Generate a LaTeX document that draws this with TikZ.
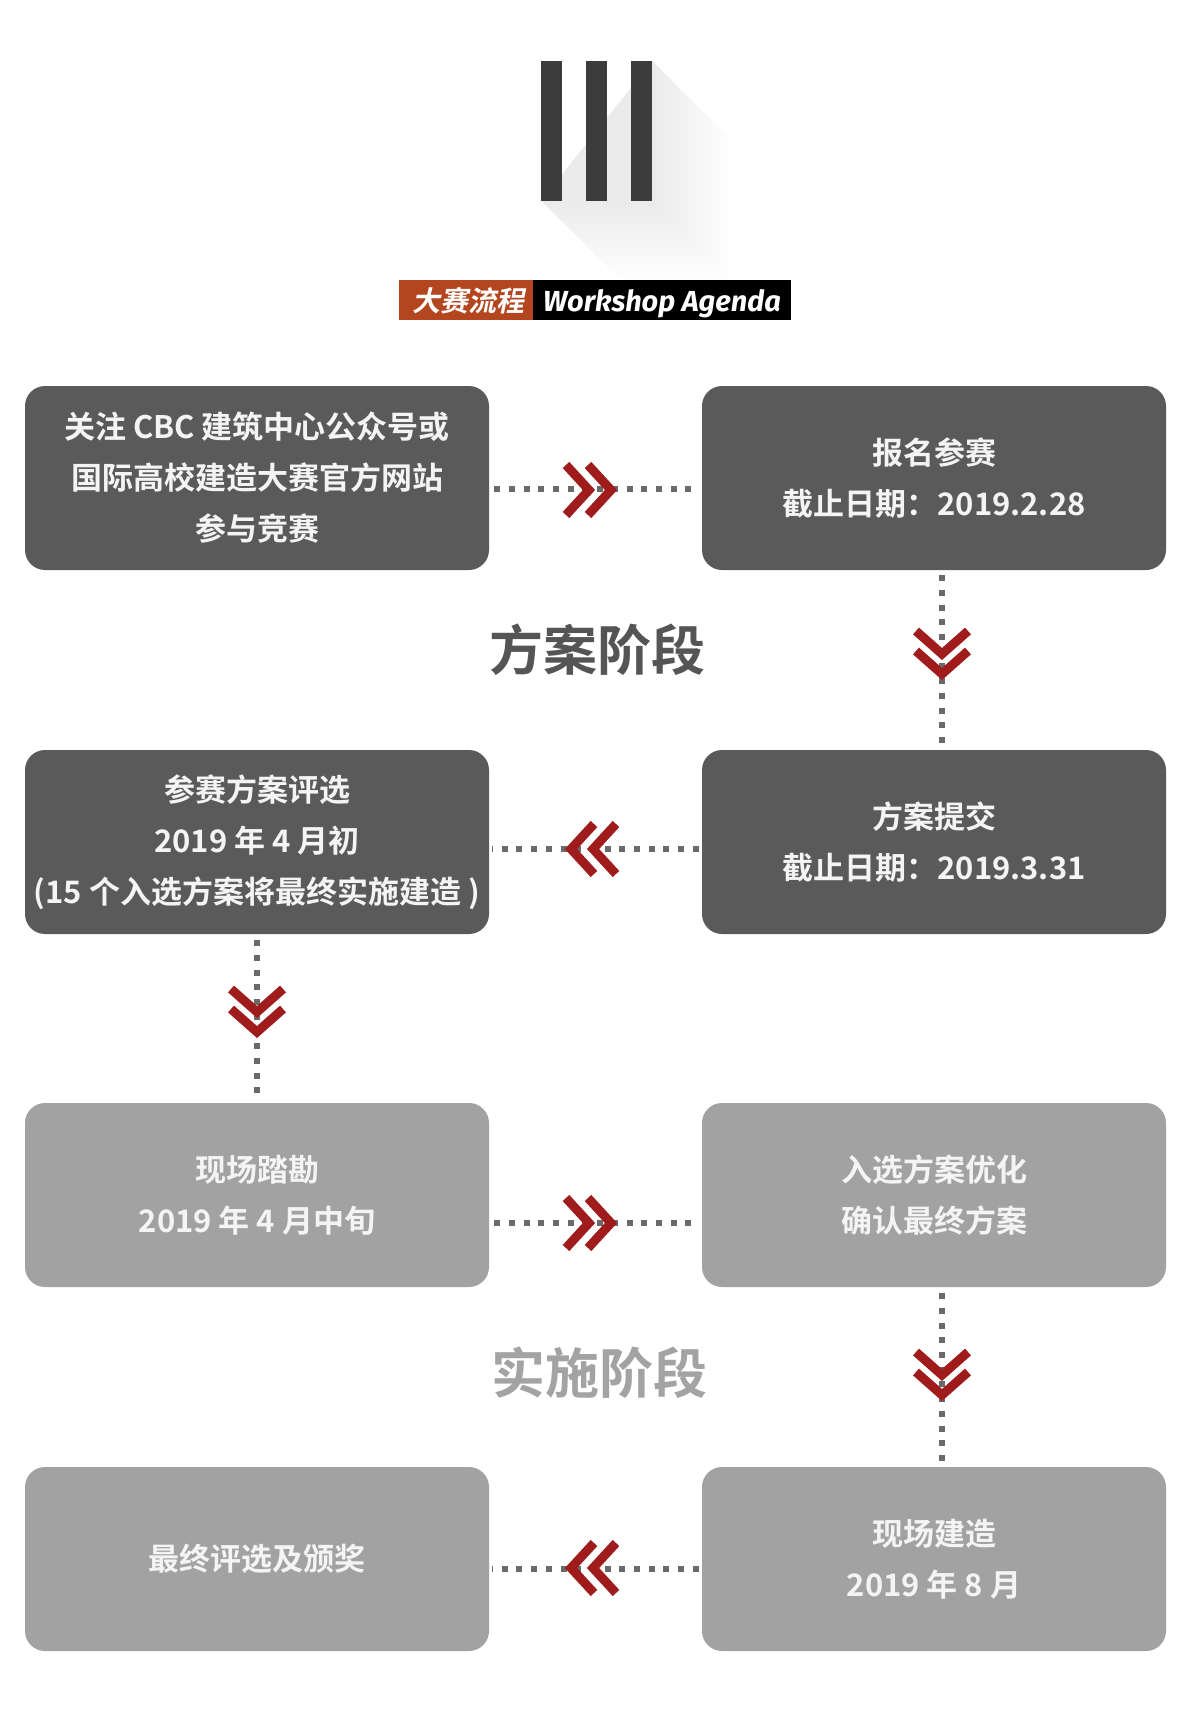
\documentclass[tikz,border=0pt]{standalone}
\usepackage{fontspec}
\setmainfont{Noto Sans CJK SC}[UprightFont=* Bold]
\newfontfamily\cjkb{Noto Sans CJK SC}[UprightFont=* Bold]
\newfontfamily\cjkslant{Noto Sans CJK SC}[UprightFont=* Bold, FakeSlant=0.2]
\newfontfamily\latinbi{Fira Sans}[UprightFont=* Bold Italic]
\definecolor{barcol}{HTML}{3C3C3C}
\definecolor{darkbox}{HTML}{5A5A5A}
\definecolor{lightbox}{HTML}{A2A2A2}
\definecolor{boxtext}{HTML}{F4F4F4}
\definecolor{orangecol}{HTML}{B4461F}
\definecolor{chevred}{HTML}{A01C1C}
\definecolor{dotcol}{HTML}{6A6A6A}
\definecolor{stagedark}{HTML}{555555}
\definecolor{stagelight}{HTML}{A3A3A3}
\tikzset{
  boxbase/.style={rectangle, rounded corners=20pt, minimum width=464pt, minimum height=184pt,
    inner sep=0pt, align=center, text=boxtext, font=\cjkb\fontsize{31}{51}\selectfont},
  darkstep/.style={boxbase, fill=darkbox},
  lightstep/.style={boxbase, fill=lightbox},
  dotline/.style={draw=dotcol, line width=6pt, dash pattern=on 6pt off 8.7pt, line cap=butt},
  chev/.style={draw=chevred, line width=9pt, line join=miter, line cap=butt},
  chevR/.pic={\draw[chev] (-23,-25) -- (0,0) -- (-23,25);},
  chevL/.pic={\draw[chev] (23,-25) -- (0,0) -- (23,25);},
  chevD/.pic={\draw[chev] (-26,-23) -- (0,0) -- (26,-23);},
  stagelabel/.style={inner sep=0pt, font=\cjkb\fontsize{54}{60}\selectfont},
}
\begin{document}
\begin{tikzpicture}[x=1pt,y=-1pt]
\useasboundingbox[fill=white] (0,0) rectangle (1194,1734);

% long shadow of the bars (smooth fade)
\foreach \L in {4,8,...,80}{
  \fill[black, opacity=0.0038] (652,61) -- (652+\L,61+\L) -- (652+\L,201+\L) -- (541+\L,201+\L) -- (541,201) -- cycle;
}
% three bars
\fill[barcol] (541,61) rectangle (562,201);
\fill[barcol] (586,61) rectangle (607,201);
\fill[barcol] (631,61) rectangle (652,201);

% title banner
\fill[orangecol] (399,280) rectangle (533,320);
\fill[black] (533,280) rectangle (791,320);
\node[text=white, inner sep=0pt, font=\cjkslant\fontsize{28}{30}\selectfont] (tcn) at (468,301) {大赛流程};
\node[text=white, inner sep=0pt, font=\latinbi\fontsize{29}{30}\selectfont] (ten) at (662,304) {Workshop Agenda};

% boxes
\node[darkstep] (b1) at (257,478) {关注 CBC 建筑中心公众号或\\国际高校建造大赛官方网站\\参与竞赛};
\node[darkstep] (b2) at (934,478) {报名参赛\\截止日期：2019.2.28};
\node[darkstep] (b3) at (257,842) {参赛方案评选\\2019 年 4 月初\\(15 个入选方案将最终实施建造 )};
\node[darkstep] (b4) at (934,842) {方案提交\\截止日期：2019.3.31};
\node[lightstep] (b5) at (257,1195) {现场踏勘\\2019 年 4 月中旬};
\node[lightstep] (b6) at (934,1195) {入选方案优化\\确认最终方案};
\node[lightstep] (b7) at (257,1559) {最终评选及颁奖};
\node[lightstep] (b8) at (934,1559) {现场建造\\2019 年 8 月};

% stage labels
\node[stagelabel, text=stagedark] (s1) at (597,650) {方案阶段};
\node[stagelabel, text=stagelight] (s2) at (599,1373) {实施阶段};

% connector anchor coordinates
\coordinate (h1) at (590,489);
\coordinate (h2) at (590,849);
\coordinate (h3) at (590,1223);
\coordinate (h4) at (590,1569);
\coordinate (v1) at (942,660);
\coordinate (v2) at (257,1020);
\coordinate (v3) at (942,1380);

% dotted connectors
\draw[dotline, shorten <=5pt, shorten >=3pt] (b1.east |- h1) -- (b2.west |- h1);
\draw[dotline, shorten <=3pt, shorten >=3pt] (b4.west |- h2) -- (b3.east |- h2);
\draw[dotline, shorten <=5pt, shorten >=3pt] (b5.east |- h3) -- (b6.west |- h3);
\draw[dotline, shorten <=3pt, shorten >=3pt] (b8.west |- h4) -- (b7.east |- h4);
\draw[dotline, shorten <=5pt, shorten >=6pt] (b2.south -| v1) -- (b4.north -| v1);
\draw[dotline, shorten <=6pt, shorten >=6pt] (b3.south -| v2) -- (b5.north -| v2);
\draw[dotline, shorten <=6pt, shorten >=6pt] (b6.south -| v3) -- (b8.north -| v3);

% chevrons
\pic at (589,490) {chevR};
\pic at (611,490) {chevR};
\pic at (571,849) {chevL};
\pic at (593,849) {chevL};
\pic at (589,1223) {chevR};
\pic at (611,1223) {chevR};
\pic at (571,1568) {chevL};
\pic at (593,1568) {chevL};
\pic at (942,654) {chevD};
\pic at (942,674) {chevD};
\pic at (257,1012) {chevD};
\pic at (257,1032) {chevD};
\pic at (942,1375) {chevD};
\pic at (942,1395) {chevD};
\end{tikzpicture}
\end{document}
